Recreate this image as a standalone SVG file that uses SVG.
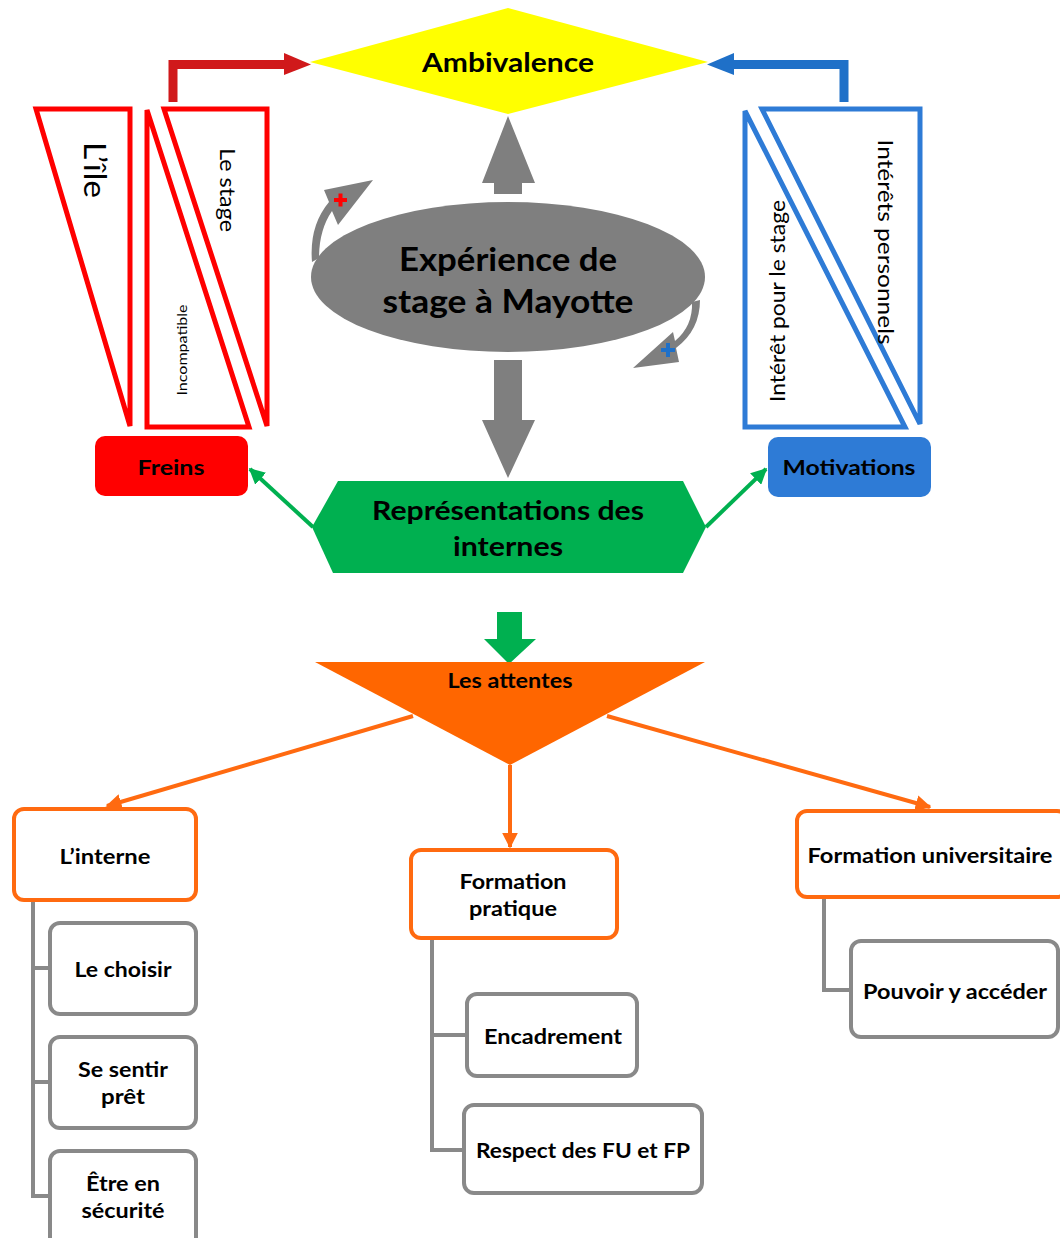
<svg xmlns="http://www.w3.org/2000/svg" width="1060" height="1238" viewBox="0 0 1060 1238">
<style>
text{font-family:Lato,"Liberation Sans",sans-serif;fill:#000;text-anchor:middle;dominant-baseline:central}
.b{font-weight:bold}
.redtri{fill:#fff;stroke:#ff0000;stroke-width:5;stroke-linejoin:miter}
.bluetri{fill:#fff;stroke:#2e7bd6;stroke-width:5;stroke-linejoin:miter}
.obox{fill:#fff;stroke:#ff6a10;stroke-width:4}
.gbox{fill:#fff;stroke:#898989;stroke-width:4}
.tree{fill:none;stroke:#898989;stroke-width:4}
.oline{stroke:#ff6a10;stroke-width:4;fill:none}
.gline{stroke:#00b050;stroke-width:4;fill:none}
.gray{fill:#7f7f7f}
</style>
<defs>
<marker id="ga" viewBox="0 0 10 10" refX="9" refY="5" markerWidth="4" markerHeight="4" orient="auto" markerUnits="strokeWidth"><path d="M0,0 L10,5 L0,10 Z" fill="#00b050"/></marker>
<marker id="oa" viewBox="0 0 10 10" refX="9" refY="5" markerWidth="4" markerHeight="4" orient="auto" markerUnits="strokeWidth"><path d="M0,0 L10,5 L0,10 Z" fill="#ff6a10"/></marker>
</defs>

<g id="connectors">
<path d="M173,102 V64.5 H286" fill="none" stroke="#d0191b" stroke-width="9"/>
<path d="M284,53 L311,64.5 L284,75 Z" fill="#d0191b"/>
<path d="M844,102 V64.5 H732" fill="none" stroke="#1f70c8" stroke-width="9"/>
<path d="M734,53 L707,64.5 L734,75 Z" fill="#1f70c8"/>
<path class="gray" d="M494,194 V183 H482 L508,116 L535,183 H522 V194 Z"/>
<path class="gray" d="M494,360 V420 H482 L508,478 L535,420 H522 V360 Z"/>
<path class="gray" d="M312,262 Q309,226 329,202 L324,190 L373,180 L338,225 L332,211 Q319,230 319,258 Z"/>
<path class="gray" d="M692,302 Q693,326 675,341 L673,332 L633,368 L679,362 L676,348 Q700,330 700,300 Z"/>
<line class="gline" x1="313" y1="527" x2="250" y2="469" marker-end="url(#ga)"/>
<line class="gline" x1="706" y1="527" x2="766" y2="469" marker-end="url(#ga)"/>
<path d="M497,612 H522 V639 H536 L509,664 L484,639 H497 Z" fill="#00b050"/>
<line class="oline" x1="413" y1="716" x2="107" y2="806" marker-end="url(#oa)"/>
<line class="oline" x1="607" y1="716" x2="930" y2="807" marker-end="url(#oa)"/>
<line class="oline" x1="510" y1="765" x2="510" y2="847" marker-end="url(#oa)"/>
<path class="tree" d="M33,900 V1196 H50 M33,968 H50 M33,1082 H50"/>
<path class="tree" d="M432,938 V1150 H464 M432,1035 H467"/>
<path class="tree" d="M824,897 V990 H851"/>
</g>

<g id="plus-red"><rect x="334" y="198" width="13" height="4" fill="#ff0000"/><rect x="338.5" y="193.5" width="4" height="13" fill="#ff0000"/></g>
<g id="plus-blue"><rect x="661" y="348" width="14" height="4" fill="#1f70c8"/><rect x="666" y="343" width="4" height="14" fill="#1f70c8"/></g>

<g id="ambivalence">
<polygon points="310,62 508,8 708,62 508,114" fill="#ffff00"/>
<text class="b" x="508" y="62" font-size="26" textLength="172" lengthAdjust="spacingAndGlyphs">Ambivalence</text>
</g>

<g id="ile">
<polygon class="redtri" points="36,109 130,109 130,426"/>
<text x="96" y="170" font-size="30" textLength="56" lengthAdjust="spacingAndGlyphs" transform="rotate(90 96 170)">L’île</text>
</g>
<g id="incompatible">
<polygon class="redtri" points="147,110 147,427 249,427"/>
<text x="181" y="350" font-size="14" textLength="91" lengthAdjust="spacingAndGlyphs" transform="rotate(-90 181 350)">Incompatible</text>
</g>
<g id="le-stage">
<polygon class="redtri" points="164,109 267,109 267,426"/>
<text x="228" y="190" font-size="22" textLength="84" lengthAdjust="spacingAndGlyphs" transform="rotate(90 228 190)">Le stage</text>
</g>

<g id="interet-stage">
<polygon class="bluetri" points="745,111 745,427 905,427"/>
<text x="776" y="301" font-size="21" textLength="202" lengthAdjust="spacingAndGlyphs" transform="rotate(-90 776 301)">Intérêt pour le stage</text>
</g>
<g id="interets-personnels">
<polygon class="bluetri" points="762,109 920,109 920,424"/>
<text x="886" y="242" font-size="22" textLength="205" lengthAdjust="spacingAndGlyphs" transform="rotate(90 886 242)">Intérêts personnels</text>
</g>

<g id="experience">
<ellipse cx="508" cy="277" rx="197" ry="75" fill="#7f7f7f"/>
<text class="b" x="508" y="258" font-size="32" textLength="218" lengthAdjust="spacingAndGlyphs">Expérience de</text>
<text class="b" x="508" y="300" font-size="32" textLength="251" lengthAdjust="spacingAndGlyphs">stage à Mayotte</text>
</g>

<g id="freins">
<rect x="95" y="436" width="153" height="60" rx="10" fill="#ff0000"/>
<text class="b" x="171" y="467" font-size="20" textLength="67" lengthAdjust="spacingAndGlyphs">Freins</text>
</g>
<g id="motivations">
<rect x="768" y="437" width="163" height="60" rx="10" fill="#2e7bd6"/>
<text class="b" x="849" y="467" font-size="20" textLength="133" lengthAdjust="spacingAndGlyphs">Motivations</text>
</g>

<g id="representations">
<polygon points="338,481 683,481 706,527 683,573 333,573 312,527" fill="#00b050"/>
<text class="b" x="508" y="510" font-size="26" textLength="272" lengthAdjust="spacingAndGlyphs">Représentations des</text>
<text class="b" x="508" y="546" font-size="26" textLength="110" lengthAdjust="spacingAndGlyphs">internes</text>
</g>

<g id="attentes">
<polygon points="315,662 705,662 510,765" fill="#ff6600"/>
<text class="b" x="510" y="680" font-size="20" textLength="125" lengthAdjust="spacingAndGlyphs">Les attentes</text>
</g>

<g id="interne">
<rect class="obox" x="14" y="809" width="182" height="91" rx="10"/>
<text class="b" x="105" y="855" font-size="21" textLength="91" lengthAdjust="spacingAndGlyphs">L’interne</text>
</g>
<g id="choisir">
<rect class="gbox" x="50" y="923" width="146" height="91" rx="10"/>
<text class="b" x="123" y="968" font-size="21" textLength="97" lengthAdjust="spacingAndGlyphs">Le choisir</text>
</g>
<g id="pret">
<rect class="gbox" x="50" y="1037" width="146" height="91" rx="10"/>
<text class="b" x="123" y="1068" font-size="21" textLength="90" lengthAdjust="spacingAndGlyphs">Se sentir</text>
<text class="b" x="123" y="1095" font-size="21" textLength="44" lengthAdjust="spacingAndGlyphs">prêt</text>
</g>
<g id="securite">
<rect class="gbox" x="50" y="1151" width="146" height="100" rx="10"/>
<text class="b" x="123" y="1182" font-size="21" textLength="74" lengthAdjust="spacingAndGlyphs">Être en</text>
<text class="b" x="123" y="1209" font-size="21" textLength="83" lengthAdjust="spacingAndGlyphs">sécurité</text>
</g>

<g id="formation-pratique">
<rect class="obox" x="411" y="850" width="206" height="88" rx="10"/>
<text class="b" x="513" y="880" font-size="21" textLength="107" lengthAdjust="spacingAndGlyphs">Formation</text>
<text class="b" x="513" y="907" font-size="21" textLength="88" lengthAdjust="spacingAndGlyphs">pratique</text>
</g>
<g id="encadrement">
<rect class="gbox" x="467" y="994" width="170" height="82" rx="10"/>
<text class="b" x="553" y="1035" font-size="21" textLength="138" lengthAdjust="spacingAndGlyphs">Encadrement</text>
</g>
<g id="respect">
<rect class="gbox" x="464" y="1105" width="238" height="88" rx="10"/>
<text class="b" x="583" y="1149" font-size="21" textLength="214" lengthAdjust="spacingAndGlyphs">Respect des FU et FP</text>
</g>

<g id="formation-universitaire">
<rect class="obox" x="797" y="811" width="270" height="86" rx="10"/>
<text class="b" x="930" y="854" font-size="21" textLength="245" lengthAdjust="spacingAndGlyphs">Formation universitaire</text>
</g>
<g id="acceder">
<rect class="gbox" x="851" y="941" width="207" height="96" rx="10"/>
<text class="b" x="955" y="990" font-size="21" textLength="184" lengthAdjust="spacingAndGlyphs">Pouvoir y accéder</text>
</g>
</svg>
